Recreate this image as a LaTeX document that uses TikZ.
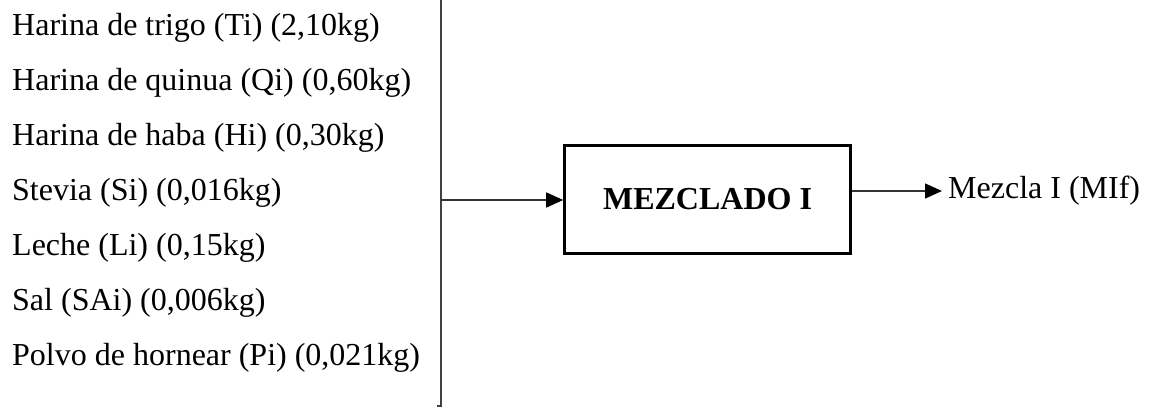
\documentclass[tikz,border=0pt]{standalone}
\usepackage{fontspec}
\setmainfont{Liberation Serif}
\usetikzlibrary{arrows.meta}
\begin{document}
\begin{tikzpicture}[x=1pt,y=-1pt,
  item/.style={anchor=base west, inner sep=0pt, font=\fontsize{32}{38}\selectfont},
  procbox/.style={draw=black, line width=2.6pt, minimum width=286pt, minimum height=108pt, inner sep=0pt, font=\fontsize{32}{38}\selectfont\bfseries},
  flow/.style={draw=black!80, line width=1.3pt, -{Triangle[length=17pt 0 0,width=15pt 0 0,color=black]}},
  rail/.style={draw=black!75, line width=1.7pt}]
\useasboundingbox (0,0) rectangle (1152,407);
\node[item] (t1) at (12,35)  {Harina de trigo (Ti) (2,10kg)};
\node[item] (t2) at (12,90)  {Harina de quinua (Qi) (0,60kg)};
\node[item] (t3) at (12,145) {Harina de haba (Hi) (0,30kg)};
\node[item] (t4) at (12,200) {Stevia (Si) (0,016kg)};
\node[item] (t5) at (12,255) {Leche (Li) (0,15kg)};
\node[item] (t6) at (12,310) {Sal (SAi) (0,006kg)};
\node[item] (t7) at (12,365) {Polvo de hornear (Pi) (0,021kg)};
\coordinate (railtop) at (441,0);
\coordinate (railbot) at (441,406);
\coordinate (railhook) at (437,406);
\coordinate (railmid) at (441,200);
\draw[rail] (railtop) -- (railbot) -- (railhook);
\node[procbox] (mix) at (707.5,199.5) {MEZCLADO I};
\draw[flow] (railmid) -- (mix.west |- railmid);
\node[item, anchor=west, inner xsep=6pt] (out) at (942,191) {Mezcla I (MIf)};
\draw[flow] (mix.east |- out.west) -- (out.west);
\end{tikzpicture}
\end{document}
